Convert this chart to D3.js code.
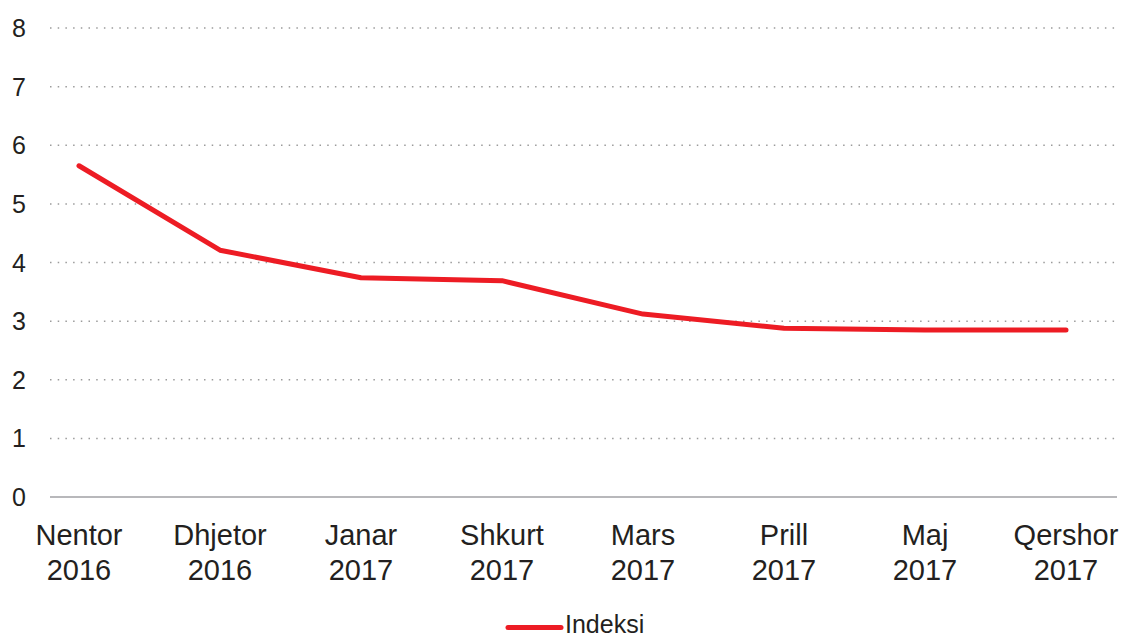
<!DOCTYPE html>
<html><head><meta charset="utf-8">
<script src="https://cdn.jsdelivr.net/npm/d3@7"></script>
<style>body{margin:0;background:#fff}svg{display:block}text{font-family:"Liberation Sans",Arial,sans-serif;fill:#231f20}</style>
</head><body>
<svg id="c" width="1126" height="639"></svg>
<script>
const months = ["Nentor","Dhjetor","Janar","Shkurt","Mars","Prill","Maj","Qershor"];
const years = ["2016","2016","2017","2017","2017","2017","2017","2017"];
const values = [5.65, 4.21, 3.74, 3.69, 3.12, 2.88, 2.85, 2.85];
const yTicks = [0,1,2,3,4,5,6,7,8];
const seriesName = "Indeksi";

const svg = d3.select("#c");
const x = d3.scalePoint().domain(d3.range(months.length)).range([79, 1066]);
const y = d3.scaleLinear().domain([0, 8]).range([497, 28]);

// gridlines
svg.append("g").selectAll("line").data(yTicks.filter(d => d > 0)).join("line")
  .attr("x1", 50).attr("x2", 1117)
  .attr("y1", d => y(d)).attr("y2", d => y(d))
  .attr("stroke", "#9b9b9b").attr("stroke-width", 1.5)
  .attr("stroke-dasharray", "1.5,6.2");

// x axis line
svg.append("line").attr("x1", 50).attr("x2", 1117).attr("y1", y(0)).attr("y2", y(0))
  .attr("stroke", "#a0a0a4").attr("stroke-width", 1.5);

// y labels
svg.append("g").selectAll("text").data(yTicks).join("text")
  .attr("x", 19).attr("y", d => y(d)).attr("dy", "0.36em")
  .attr("text-anchor", "middle").attr("font-size", 25).text(d => d);

// x labels
const xl = svg.append("g").selectAll("text").data(months).join("text")
  .attr("text-anchor", "middle").attr("font-size", 29);
xl.append("tspan").attr("x", (d,i) => x(i)).attr("y", 545).text(d => d);
xl.append("tspan").attr("x", (d,i) => x(i)).attr("y", 580).text((d,i) => years[i]);

// line
const line = d3.line().x((d,i) => x(i)).y(d => y(d));
svg.append("path").datum(values).attr("d", line)
  .attr("fill", "none").attr("stroke", "#ed1c24").attr("stroke-width", 5)
  .attr("stroke-linecap", "round").attr("stroke-linejoin", "round");

// legend
svg.append("line").attr("x1", 508).attr("x2", 561).attr("y1", 627.5).attr("y2", 627.5)
  .attr("stroke", "#ed1c24").attr("stroke-width", 5).attr("stroke-linecap", "round");
svg.append("text").attr("x", 565).attr("y", 633).attr("font-size", 25).text(seriesName);
</script>
</body></html>
